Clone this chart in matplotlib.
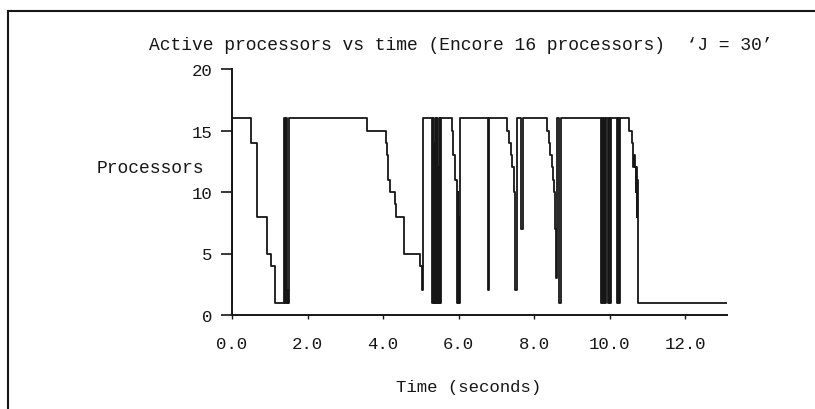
import matplotlib
matplotlib.use("Agg")
import matplotlib.pyplot as plt
from matplotlib.lines import Line2D

# ---- data ----
time_s = [0.00, 0.01, 0.50, 0.65, 0.92, 1.02, 1.14, 1.38, 1.40, 1.43, 1.45, 1.47, 1.48, 1.50,
          3.57, 4.08, 4.10, 4.12, 4.14, 4.17, 4.32, 4.35, 4.54, 4.98, 5.03, 5.05,
          5.30, 5.32, 5.34, 5.36, 5.37, 5.39, 5.41, 5.43, 5.45, 5.47, 5.48, 5.50, 5.51, 5.53,
          5.83, 5.86, 5.89, 5.95, 5.97, 5.98, 6.00, 6.01, 6.04,
          6.77, 6.80,
          7.28, 7.33, 7.38, 7.42, 7.46, 7.49, 7.53, 7.57, 7.65, 7.69,
          8.34, 8.38, 8.42, 8.46, 8.50, 8.53, 8.55, 8.57, 8.59, 8.66, 8.70,
          9.77, 9.79, 9.82, 9.85, 9.87, 9.89, 9.95, 9.98, 10.01, 10.04,
          10.20, 10.22, 10.25, 10.28,
          10.50, 10.59, 10.62, 10.64, 10.66, 10.68, 10.70, 10.72, 10.73, 10.75,
          13.10]
processors = [1, 16, 14, 8, 5, 4, 1, 16, 1, 16, 1, 2, 1, 16,
              15, 14, 13, 12, 11, 10, 9, 8, 5, 4, 2, 16,
              1, 16, 1, 14, 1, 16, 1, 16, 1, 12, 1, 16, 1, 16,
              15, 13, 11, 1, 10, 1, 8, 1, 16,
              2, 16,
              15, 14, 13, 12, 10, 2, 16, 16, 7, 16,
              15, 14, 13, 12, 11, 10, 7, 3, 16, 1, 16,
              1, 16, 1, 16, 1, 16, 1, 16, 1, 16,
              1, 16, 1, 16,
              15, 14, 12, 13, 12, 10, 12, 8, 11, 1,
              1]

x_ticks = [0, 2, 4, 6, 8, 10, 12]
x_ticklabels = ["0.0", "2.0", "4.0", "6.0", "8.0", "10.0", "12.0"]
y_ticks = [0, 5, 10, 15, 20]
y_ticklabels = ["0", "5", "10", "15", "20"]

title = "Active processors vs time (Encore 16 processors)  \u2018J = 30\u2019"
xlabel = "Time (seconds)"
ylabel = "Processors"

# ---- figure ----
W, H = 815, 410
fig = plt.figure(figsize=(W / 100, H / 100), dpi=100)
fig.patch.set_facecolor("white")
FONT = "Liberation Mono"
INK = "#161616"

def fx(px):
    return px / W

def fy(py):
    return 1 - py / H

ax = fig.add_axes([fx(232), fy(316), fx(727) - fx(232), fy(70) - fy(316)])
ax.plot(time_s, processors, drawstyle="steps-post", color=INK, lw=1.3)

ax.set_xlim(0, 13.1)
ax.set_ylim(0, 20)
for s in ["top", "right"]:
    ax.spines[s].set_visible(False)
for s in ["left", "bottom"]:
    ax.spines[s].set_color(INK)
    ax.spines[s].set_linewidth(1.4)

ax.set_xticks(x_ticks)
ax.set_xticklabels(x_ticklabels)
ax.set_yticks(y_ticks)
ax.set_yticklabels(y_ticklabels)
ax.tick_params(axis="x", direction="out", length=3, width=1.0, pad=12,
               labelsize=12.5, colors=INK)
ax.tick_params(axis="y", direction="out", length=8, width=1.2, pad=6,
               labelsize=12.5, colors=INK)
for lab in ax.get_xticklabels() + ax.get_yticklabels():
    lab.set_fontfamily(FONT)

fig.text(fx(461), fy(45), title, ha="center", va="center",
         fontsize=13, family=FONT, color=INK)
fig.text(fx(469), fy(388), xlabel, ha="center", va="center",
         fontsize=12.5, family=FONT, color=INK)
fig.text(fx(204), fy(169), ylabel, ha="right", va="center",
         fontsize=13, family=FONT, color=INK)

# scanned page border (left and top edges)
fig.add_artist(Line2D([fx(8), fx(8)], [fy(12), 0], transform=fig.transFigure,
                      color=INK, lw=1.5))
fig.add_artist(Line2D([fx(8), 1], [fy(12), fy(12)], transform=fig.transFigure,
                      color=INK, lw=1.5))

fig.savefig("out.png", dpi=100, facecolor="white")
